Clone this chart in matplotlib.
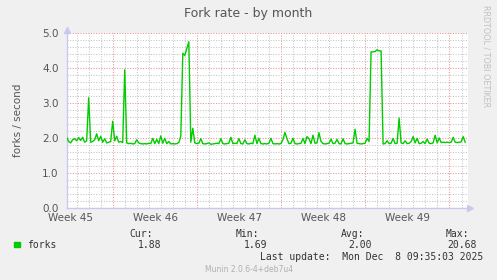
import matplotlib
matplotlib.use('Agg')
import matplotlib.pyplot as plt
import numpy as np

# fork rate, one sample every 4 hours, days counted from the week-46 grid line
t_start = -3.86
t_step = 1 / 6
forks = [
    2.02, 1.90, 1.86, 1.95, 1.98, 1.92, 2.01, 1.93, 2.02, 1.88,
    1.92, 3.15, 1.88, 1.90, 1.95, 2.12, 1.92, 2.05, 1.88, 1.98,
    1.86, 1.88, 1.90, 2.48, 1.92, 2.05, 1.88, 1.90, 1.87, 3.95,
    1.86, 1.84, 1.85, 1.83, 1.84, 1.95, 1.86, 1.84, 1.83, 1.84,
    1.83, 1.85, 1.84, 1.99, 1.84, 1.96, 1.84, 2.06, 1.85, 1.99,
    1.84, 1.90, 1.83, 1.84, 1.83, 1.84, 1.87, 2.05, 4.42, 4.36,
    4.55, 4.75, 1.88, 2.28, 1.86, 1.84, 1.85, 1.98, 1.84, 1.83,
    1.84, 1.86, 1.82, 1.83, 1.84, 1.85, 1.84, 1.98, 1.84, 1.83,
    1.84, 1.85, 2.02, 1.84, 1.85, 1.84, 1.98, 1.84, 1.83, 1.95,
    1.84, 1.83, 1.85, 1.84, 2.08, 1.84, 1.99, 1.84, 1.83, 1.84,
    1.83, 1.85, 1.99, 1.84, 1.83, 1.84, 1.83, 1.84, 1.95, 2.16,
    1.98, 1.84, 1.85, 1.99, 1.84, 1.83, 1.84, 1.85, 1.99, 1.84,
    2.04, 1.98, 1.84, 2.08, 1.85, 1.86, 2.15, 1.90, 1.84, 1.83,
    1.84, 1.85, 1.97, 1.84, 1.85, 1.96, 1.84, 1.83, 1.98, 1.84,
    1.83, 1.84, 1.85, 1.86, 2.25, 1.85, 1.84, 1.83, 1.84, 1.85,
    1.99, 1.90, 4.46, 4.46, 4.47, 4.52, 4.49, 4.49, 1.83, 1.84,
    1.92, 1.84, 1.85, 1.99, 1.84, 1.85, 2.57, 1.86, 1.84, 1.92,
    1.84, 1.85, 1.90, 2.04, 1.86, 1.99, 1.84, 1.85, 1.90, 1.84,
    1.97, 1.85, 1.84, 1.86, 2.08, 1.86, 2.00, 1.87, 1.88, 1.87,
    1.88, 1.87, 1.88, 2.02, 1.88, 1.87, 1.88, 1.89, 2.04, 1.88,
]
days = t_start + t_step * np.arange(len(forks))

week_lines = [0, 7, 14, 21, 28]
week_label_pos = [-3.5, 3.5, 10.5, 17.5, 24.5]
week_labels = ['Week 45', 'Week 46', 'Week 47', 'Week 48', 'Week 49']
y_ticks = [0, 1, 2, 3, 4, 5]

legend_stats = [('Cur:', '1.88'), ('Min:', '1.69'), ('Avg:', '2.00'), ('Max:', '20.68')]

bg = '#f0f0f0'
txt = '#555555'
axis_col = '#c8c8f0'
green = '#00cc00'

fig = plt.figure(figsize=(4.97, 2.80), dpi=100, facecolor=bg)
ax = fig.add_axes([67 / 497, 1 - 208 / 280, 401 / 497, 175 / 280])
ax.set_facecolor('white')

ax.plot(days, forks, color=green, lw=1.0, zorder=3)

ax.set_xlim(-3.83, 29.54)
ax.set_ylim(0, 5)

# grid
ax.set_xticks(week_lines)
ax.set_xticks(np.arange(-3, 30), minor=True)
ax.set_yticks(y_ticks)
ax.set_yticks(np.arange(0, 5.01, 0.2), minor=True)
ax.set_xticklabels([])
ax.set_yticklabels(['%.1f' % v for v in y_ticks], color=txt, fontsize=7.5)
ax.grid(which='minor', color='#c4c4c4', lw=0.75, linestyle=(0, (1, 1.5)))
ax.grid(which='major', color='#e89090', lw=0.75, linestyle=(0, (1, 1.5)))
ax.set_axisbelow(True)
ax.tick_params(which='both', length=0, pad=6)

for s in ['top', 'right']:
    ax.spines[s].set_visible(False)
for s in ['left', 'bottom']:
    ax.spines[s].set_color(axis_col)
    ax.spines[s].set_linewidth(1.0)
ax.plot(1.006, 0, '>', color=axis_col, ms=4, transform=ax.transAxes, clip_on=False)
ax.plot(0, 1.02, '^', color=axis_col, ms=4, transform=ax.transAxes, clip_on=False)

for pos, lab in zip(week_label_pos, week_labels):
    ax.text(pos, -0.03, lab, transform=ax.get_xaxis_transform(), ha='center', va='top',
            color=txt, fontsize=7.5)

ax.set_ylabel('forks / second', color=txt, fontsize=7.5, labelpad=14)

fig.text(0.5, 1 - 14 / 280, 'Fork rate - by month', ha='center', va='center',
         color=txt, fontsize=9)
fig.text(486 / 497, 1 - 5 / 280, 'RRDTOOL / TOBI OETIKER', rotation=270, ha='center', va='top',
         color='#c0c0c0', fontsize=5.8)

# legend block
mono = 'DejaVu Sans Mono'
fig.patches.append(plt.Rectangle((14 / 497, 1 - 247 / 280), 6 / 497, 5 / 280,
                                 transform=fig.transFigure, color=green))
fig.text(27 / 497, 1 - 245 / 280, 'forks', family=mono, fontsize=7, color='#333333', va='center')
stat_right = [153, 259, 364, 469]
val_right = [161, 267, 372, 477]
for (name, val), xr, vr in zip(legend_stats, stat_right, val_right):
    fig.text(xr / 497, 1 - 234 / 280, name, family=mono, fontsize=7, color='#333333',
             ha='right', va='center')
    fig.text(vr / 497, 1 - 245 / 280, val, family=mono, fontsize=7, color='#333333',
             ha='right', va='center')
fig.text(483 / 497, 1 - 257 / 280, 'Last update:  Mon Dec  8 09:35:03 2025', family=mono,
         fontsize=7, color='#333333', ha='right', va='center')
fig.text(249 / 497, 1 - 269 / 280, 'Munin 2.0.6-4+deb7u4', fontsize=5.5, color='#b0b0b0',
         ha='center', va='center')

fig.savefig('out.png', dpi=100, facecolor=bg)
